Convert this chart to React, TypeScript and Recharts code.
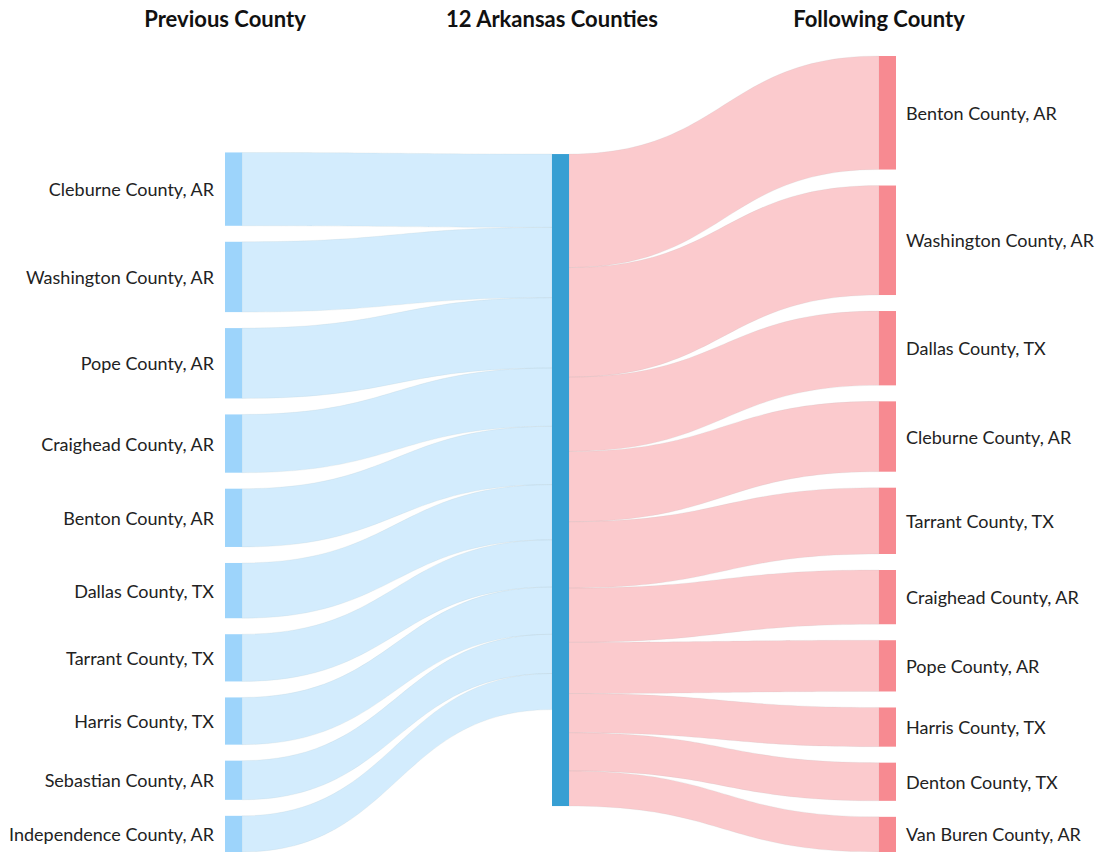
import React from 'react';
import { Sankey } from 'recharts';

// Column headers
const titles = ['Previous County', '12 Arkansas Counties', 'Following County'];

// Left column: where people came from
const previousCounties = [
    'Cleburne County, AR',
    'Washington County, AR',
    'Pope County, AR',
    'Craighead County, AR',
    'Benton County, AR',
    'Dallas County, TX',
    'Tarrant County, TX',
    'Harris County, TX',
    'Sebastian County, AR',
    'Independence County, AR',
];
const previousValues = [73, 70, 70, 58, 58, 55, 47, 47, 39, 36];

// Right column: where people went next
const followingCounties = [
    'Benton County, AR',
    'Washington County, AR',
    'Dallas County, TX',
    'Cleburne County, AR',
    'Tarrant County, TX',
    'Craighead County, AR',
    'Pope County, AR',
    'Harris County, TX',
    'Denton County, TX',
    'Van Buren County, AR',
];
const followingValues = [113, 109, 74, 70, 66, 54, 51, 39, 38, 35];

const WIDTH = 1095;
const HEIGHT = 852;
const MARGIN = { top: 56, right: 199, bottom: 0, left: 225 };
const NODE_WIDTH = 17;

const LEFT_NODE = '#9dd4fb';
const MID_NODE = '#379fd3';
const RIGHT_NODE = '#f78a91';
const FONT = 'Lato, "Noto Sans", sans-serif';

const MID_INDEX = previousCounties.length;

const sankeyData = {
    nodes: [
        ...previousCounties.map((name) => ({ name })),
        { name: titles[1] },
        ...followingCounties.map((name) => ({ name })),
    ],
    links: [
        ...previousValues.map((value, i) => ({ source: i, target: MID_INDEX, value })),
        ...followingValues.map((value, i) => ({ source: MID_INDEX, target: MID_INDEX + 1 + i, value })),
    ],
};

const CountyNode = (props: any) => {
    const { x, y, width, height, payload } = props;
    const depth = payload.depth;
    const fill = depth === 0 ? LEFT_NODE : depth === 1 ? MID_NODE : RIGHT_NODE;
    return (
        <g>
            <rect x={x} y={y} width={width} height={height} fill={fill} />
            {depth !== 1 && (
                <text
                    x={depth === 0 ? x - 11 : x + width + 10}
                    y={y + height / 2}
                    textAnchor={depth === 0 ? 'end' : 'start'}
                    dominantBaseline="central"
                    fontFamily={FONT}
                    fontSize={18}
                    fill="#222"
                >
                    {payload.name}
                </text>
            )}
        </g>
    );
};

const CountyLink = (props: any) => {
    const { sourceX, targetX, sourceY, targetY, sourceControlX, targetControlX, linkWidth, payload } = props;
    const fromMiddle = payload.source && payload.source.name === titles[1];
    const color = fromMiddle ? RIGHT_NODE : LEFT_NODE;
    const h = linkWidth / 2;
    const d =
        `M${sourceX},${sourceY - h}` +
        `C${sourceControlX},${sourceY - h} ${targetControlX},${targetY - h} ${targetX},${targetY - h}` +
        `L${targetX},${targetY + h}` +
        `C${targetControlX},${targetY + h} ${sourceControlX},${sourceY + h} ${sourceX},${sourceY + h}Z`;
    return (
        <path
            d={d}
            fill={color}
            fillOpacity={0.45}
            stroke="#9aa"
            strokeOpacity={0.12}
            strokeWidth={1}
        />
    );
};

export default function App() {
    const columnX = [
        MARGIN.left,
        MARGIN.left + (WIDTH - MARGIN.left - MARGIN.right - NODE_WIDTH) / 2,
        WIDTH - MARGIN.right - NODE_WIDTH,
    ];
    return (
        <div style={{ position: 'absolute', left: 0, top: 0, width: WIDTH, height: HEIGHT, background: '#fff' }}>
            {titles.map((t, i) => (
                <div
                    key={t}
                    style={{
                        position: 'absolute',
                        left: columnX[i],
                        top: 5,
                        transform: 'translateX(-50%)',
                        whiteSpace: 'nowrap',
                        fontFamily: FONT,
                        fontWeight: 700,
                        fontSize: 22,
                        color: '#111',
                    }}
                >
                    {t}
                </div>
            ))}
            <Sankey
                width={WIDTH}
                height={HEIGHT}
                margin={MARGIN}
                data={sankeyData}
                nodeWidth={NODE_WIDTH}
                nodePadding={16}
                node={<CountyNode />}
                link={<CountyLink />}
                isAnimationActive={false}
            />
        </div>
    );
}
